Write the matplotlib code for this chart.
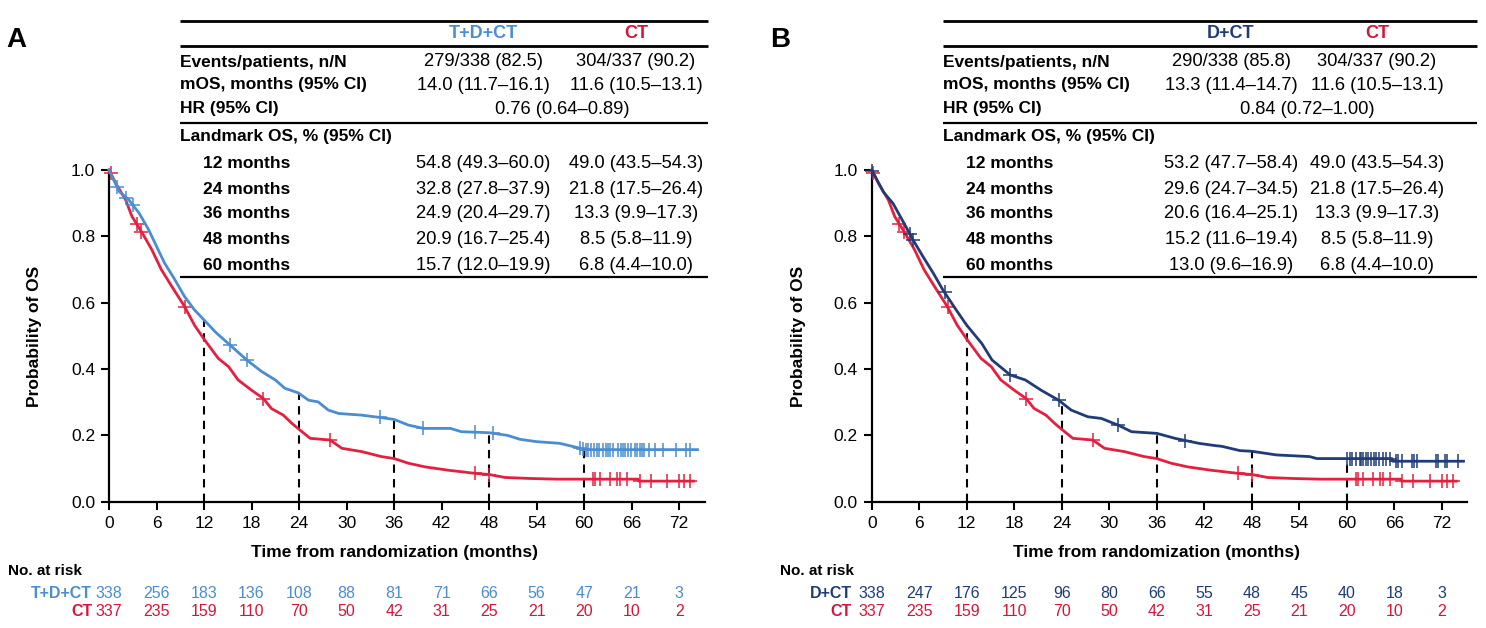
import numpy as np
import matplotlib
matplotlib.use("Agg")
import matplotlib.pyplot as plt
from matplotlib.lines import Line2D
import matplotlib.transforms as mtransforms

plt.rcParams['font.family'] = ['Liberation Sans', 'DejaVu Sans']

# ---------------- data ----------------
arm_a = "T+D+CT"
arm_b = "D+CT"
arm_ct = "CT"

# KM curves (months, survival probability)
tdct_t = [0, 1.3, 2.5, 3.8, 5.0, 5.8, 7.0, 8.3, 9.5, 10.8, 12.0, 13.5, 15.3, 17.4, 19.3,
          21.0, 22.2, 23.9, 25.2, 26.4, 27.7, 29.0, 31.9, 34.2, 36.0, 37.8, 39.7, 43.1,
          44.5, 48.0, 50.3, 51.9, 54.0, 56.9, 59.0, 60.1, 74.3]
tdct_s = [1.0, 0.935, 0.91, 0.87, 0.82, 0.78, 0.72, 0.67, 0.62, 0.578, 0.548, 0.51, 0.472,
          0.427, 0.392, 0.367, 0.342, 0.328, 0.306, 0.301, 0.276, 0.266, 0.261, 0.254,
          0.248, 0.231, 0.221, 0.221, 0.211, 0.208, 0.200, 0.188, 0.181, 0.176, 0.164,
          0.157, 0.157]
tdct_cens = [1.0, 2.2, 3.0, 15.3, 17.4, 34.2, 39.7, 46.2, 48.5,
             59.5, 59.8, 60.2, 60.5, 60.9, 61.2, 61.6, 61.9, 62.4, 62.7, 63.0, 63.2, 63.6,
             64.3, 64.6, 64.9, 65.2, 65.5, 65.9, 66.4, 66.7, 67.0, 67.3, 67.6, 68.2, 69.0,
             70.0, 71.6, 72.8, 73.3]

dct_t = [0, 1.5, 2.7, 4.0, 5.25, 6.5, 7.8, 9.0, 10.7, 12.0, 13.9, 15.2, 17.5, 19.4, 21.4,
         23.6, 25.2, 27.3, 29.0, 31.1, 32.8, 36.0, 38.3, 41.3, 43.4, 44.2, 46.5, 48.0,
         51.1, 55.3, 56.2, 60.0, 65.7, 65.8, 74.7]
dct_s = [1.0, 0.933, 0.899, 0.843, 0.788, 0.738, 0.688, 0.638, 0.577, 0.532, 0.477, 0.427,
         0.382, 0.367, 0.336, 0.306, 0.276, 0.256, 0.251, 0.231, 0.211, 0.206, 0.191,
         0.176, 0.169, 0.167, 0.154, 0.152, 0.141, 0.136, 0.130, 0.130, 0.130, 0.122, 0.122]
dct_cens = [0.1, 4.8, 5.2, 9.2, 17.5, 23.6, 31.1, 39.6,
            60.05, 60.4, 60.7, 61.1, 61.6, 61.8, 62.0, 62.4, 62.7, 63.0, 63.4, 63.7, 64.1,
            64.5, 64.9, 65.4, 66.2, 66.5, 67.0, 68.2, 68.5, 68.8, 71.3, 71.5, 72.4, 72.7, 74.0]

ct_t = [0, 0.85, 2.1, 2.9, 4.2, 5.4, 6.6, 7.9, 9.5, 10.8, 12.0, 13.8, 15.1, 16.3, 18.0,
        19.5, 20.5, 22.0, 23.1, 24.0, 25.4, 27.9, 29.4, 31.9, 34.4, 36.0, 37.8, 39.9,
        42.8, 46.4, 48.0, 50.0, 53.2, 56.5, 66.8, 66.9, 73.8]
ct_s = [1.0, 0.96, 0.91, 0.86, 0.81, 0.76, 0.70, 0.65, 0.59, 0.532, 0.49, 0.432, 0.407,
        0.367, 0.336, 0.311, 0.281, 0.261, 0.236, 0.218, 0.191, 0.186, 0.161, 0.151, 0.136,
        0.130, 0.116, 0.105, 0.095, 0.085, 0.082, 0.073, 0.070, 0.068, 0.068, 0.062, 0.062]
ct_cens = [0.2, 3.5, 4.1, 9.6, 19.5, 27.9, 46.2, 48.0,
           61.1, 61.4, 62.0, 63.3, 64.2, 64.5, 65.4, 67.0, 68.4, 70.5, 72.0, 72.6, 73.4]

# table values
events_a = "279/338 (82.5)"
events_b = "290/338 (85.8)"
events_ct = "304/337 (90.2)"
mos_a = [14.0, 11.7, 16.1]
mos_b = [13.3, 11.4, 14.7]
mos_ct = [11.6, 10.5, 13.1]
hr_a = [0.76, 0.64, 0.89]
hr_b = [0.84, 0.72, 1.00]

landmark_months = [12, 24, 36, 48, 60]
lm_a = [54.8, 32.8, 24.9, 20.9, 15.7]
lm_a_lo = [49.3, 27.8, 20.4, 16.7, 12.0]
lm_a_hi = [60.0, 37.9, 29.7, 25.4, 19.9]
lm_b = [53.2, 29.6, 20.6, 15.2, 13.0]
lm_b_lo = [47.7, 24.7, 16.4, 11.6, 9.6]
lm_b_hi = [58.4, 34.5, 25.1, 19.4, 16.9]
lm_ct = [49.0, 21.8, 13.3, 8.5, 6.8]
lm_ct_lo = [43.5, 17.5, 9.9, 5.8, 4.4]
lm_ct_hi = [54.3, 26.4, 17.3, 11.9, 10.0]

risk_times = [0, 6, 12, 18, 24, 30, 36, 42, 48, 54, 60, 66, 72]
risk_a = [338, 256, 183, 136, 108, 88, 81, 71, 66, 56, 47, 21, 3]
risk_b = [338, 247, 176, 125, 96, 80, 66, 55, 48, 45, 40, 18, 3]
risk_ct = [337, 235, 159, 110, 70, 50, 42, 31, 25, 21, 20, 10, 2]

# ---------------- style ----------------
C_A = '#4a8dd0'
C_B = '#1f3c78'
C_CT = '#e3203f'
C_CT_TXT = '#d0173a'

W, H = 1486, 628
fig = plt.figure(figsize=(W / 100, H / 100), dpi=100)


def fx(x):
    return x / W


def fy(y):
    return 1 - y / H


def hline(x0, x1, y, lw):
    fig.add_artist(Line2D([fx(x0), fx(x1)], [fy(y), fy(y)], color='black', lw=lw,
                          transform=fig.transFigure, solid_capstyle='butt'))


def ci(v):
    return f"{v[0]:.1f} ({v[1]:.1f}\u2013{v[2]:.1f})"


def ci2(v):
    return f"{v[0]:.2f} ({v[1]:.2f}\u2013{v[2]:.2f})"


def panel(letter, letter_x, ax_left, ax_right, t1, s1, c1, color1, name1,
          events1, mos1, hr, lm1, lm1lo, lm1hi, risk1,
          tab_left, tab_right, col1, col2, risk_label_x, ylab_x, nrisk_x):
    x0 = ax_left
    ax = fig.add_axes([fx(x0), fy(501.7), fx(ax_right) - fx(x0), 331.7 / H])
    xmax = (ax_right - x0) / 7.92
    ax.set_xlim(0, xmax)
    ax.set_ylim(0, 1.0)
    for sp in ['top', 'right']:
        ax.spines[sp].set_visible(False)
    for sp in ['left', 'bottom']:
        ax.spines[sp].set_linewidth(1.6)
    ax.set_xticks(risk_times)
    ax.set_yticks([0, 0.2, 0.4, 0.6, 0.8, 1.0])
    ax.set_yticklabels([f"{v:.1f}" for v in [0, 0.2, 0.4, 0.6, 0.8, 1.0]])
    ax.tick_params(axis='both', direction='out', length=6, width=1.5, labelsize=12.5, pad=4)

    # landmark dashed lines
    tops = [max(a, b) / 100 for a, b in zip(lm1, lm_ct)]
    ax.vlines(landmark_months, 0, tops, colors='black', linestyles=(0, (4, 3)), lw=1.5, zorder=2)

    # curves
    for (t, s, cens, col) in [(ct_t, ct_s, ct_cens, C_CT), (t1, s1, c1, color1)]:
        ax.plot(t, s, color=col, lw=2.0, zorder=3, clip_on=False)
        ax.plot(cens, np.interp(cens, t, s), ls='none', marker='+', ms=10, mew=1.1,
                color=col, zorder=3, clip_on=False)

    # labels
    trans = mtransforms.blended_transform_factory(ax.transData, fig.transFigure)
    ax.text(36, fy(552), "Time from randomization (months)", transform=trans,
            ha='center', va='center', fontsize=12.5, fontweight='bold')
    fig.text(fx(ylab_x), fy(336), "Probability of OS", rotation=90, ha='center', va='center',
             fontsize=12.5, fontweight='bold')
    fig.text(fx(letter_x), fy(40), letter, ha='left', va='center', fontsize=20, fontweight='bold')

    # at risk
    fig.text(fx(nrisk_x), fy(571), "No. at risk", ha='left', va='center', fontsize=11,
             fontweight='bold')
    fig.text(fx(risk_label_x), fy(593), name1, ha='right', va='center', fontsize=11.5,
             fontweight='bold', color=color1)
    fig.text(fx(risk_label_x), fy(611), arm_ct, ha='right', va='center', fontsize=11.5,
             fontweight='bold', color=C_CT_TXT)
    for tt, n1, n2 in zip(risk_times, risk1, risk_ct):
        ax.text(tt, fy(593), str(n1), transform=trans, ha='center', va='center',
                fontsize=11.5, color=color1)
        ax.text(tt, fy(611), str(n2), transform=trans, ha='center', va='center',
                fontsize=11.5, color=C_CT_TXT)

    # table
    hline(tab_left, tab_right, 21, 2.0)
    hline(tab_left, tab_right, 46, 2.0)
    hline(tab_left, tab_right, 123, 1.6)
    hline(tab_left, tab_right, 277, 1.6)
    fs = 12.5
    fv = 13.2
    fig.text(fx(col1), fy(34), name1, ha='center', va='center', fontsize=13,
             fontweight='bold', color=color1)
    fig.text(fx(col2), fy(34), arm_ct, ha='center', va='center', fontsize=13,
             fontweight='bold', color=C_CT_TXT)
    rows = [(62, "Events/patients, n/N", events1, events_ct),
            (85, "mOS, months (95% CI)", ci(mos1), ci(mos_ct))]
    for y, lab, v1, v2 in rows:
        fig.text(fx(tab_left), fy(y), lab, ha='left', va='center', fontsize=fs, fontweight='bold')
        fig.text(fx(col1), fy(y), v1, ha='center', va='center', fontsize=fv)
        fig.text(fx(col2), fy(y), v2, ha='center', va='center', fontsize=fv)
    fig.text(fx(tab_left), fy(108), "HR (95% CI)", ha='left', va='center', fontsize=fs,
             fontweight='bold')
    fig.text(fx((col1 + col2) / 2 + 3), fy(110), ci2(hr), ha='center', va='center', fontsize=fv)
    fig.text(fx(tab_left), fy(137), "Landmark OS, % (95% CI)", ha='left', va='center',
             fontsize=fs, fontweight='bold')
    ys = [163, 189, 214, 240, 266]
    for i, m in enumerate(landmark_months):
        fig.text(fx(tab_left + 23), fy(ys[i]), f"{m} months", ha='left', va='center',
                 fontsize=fs, fontweight='bold')
        fig.text(fx(col1), fy(ys[i]), ci([lm1[i], lm1lo[i], lm1hi[i]]), ha='center',
                 va='center', fontsize=fv)
        fig.text(fx(col2), fy(ys[i]), ci([lm_ct[i], lm_ct_lo[i], lm_ct_hi[i]]), ha='center',
                 va='center', fontsize=fv)
    return ax


panel("A", 6, 109, 705, tdct_t, tdct_s, tdct_cens, C_A, arm_a,
      events_a, mos_a, hr_a, lm_a, lm_a_lo, lm_a_hi, risk_a,
      180, 708, 483, 636, 92, 35, 8)
panel("B", 770, 871.7, 1467, dct_t, dct_s, dct_cens, C_B, arm_b,
      events_b, mos_b, hr_b, lm_b, lm_b_lo, lm_b_hi, risk_b,
      943, 1477, 1231, 1377, 852, 798, 780)

fig.savefig("out.png", dpi=100)
